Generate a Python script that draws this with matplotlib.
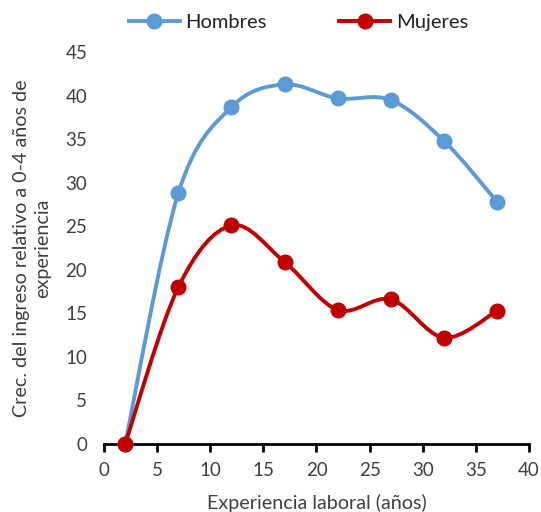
import matplotlib
matplotlib.use("Agg")
import matplotlib.pyplot as plt
from matplotlib.path import Path
from matplotlib.patches import PathPatch
from matplotlib.lines import Line2D

plt.rcParams["font.family"] = ["Lato", "DejaVu Sans"]

experiencia = [2, 7, 12, 17, 22, 27, 32, 37]
hombres = [0, 28.8, 38.7, 41.3, 39.7, 39.5, 34.8, 27.8]
mujeres = [0, 18.0, 25.1, 20.9, 15.4, 16.6, 12.2, 15.3]

AZUL = "#5B9BD5"
ROJO = "#C00000"
GRIS = "#404040"


def smooth_path(xs, ys):
    # Catmull-Rom style cubic Bezier through every point (spreadsheet "smoothed line")
    verts = [(xs[0], ys[0])]
    codes = [Path.MOVETO]
    n = len(xs)
    for i in range(n - 1):
        x0, y0 = (xs[i - 1], ys[i - 1]) if i > 0 else (xs[i], ys[i])
        x1, y1 = xs[i], ys[i]
        x2, y2 = xs[i + 1], ys[i + 1]
        x3, y3 = (xs[i + 2], ys[i + 2]) if i + 2 < n else (x2, y2)
        c1 = (x1 + (x2 - x0) / 6, y1 + (y2 - y0) / 6)
        c2 = (x2 - (x3 - x1) / 6, y2 - (y3 - y1) / 6)
        verts += [c1, c2, (x2, y2)]
        codes += [Path.CURVE4] * 3
    return Path(verts, codes)


fig = plt.figure(figsize=(5.41, 5.12), dpi=100)
ax = fig.add_axes([0.192, 0.133, 0.786, 0.765])

for ys, col in [(hombres, AZUL), (mujeres, ROJO)]:
    ax.add_patch(PathPatch(smooth_path(experiencia, ys), facecolor="none",
                           edgecolor=col, lw=2.8, capstyle="round", zorder=2))
    ax.plot(experiencia, ys, "o", color=col, ms=10.5, zorder=3, clip_on=False)

ax.set_xlim(0, 40)
ax.set_ylim(0, 45)
ax.set_xticks(range(0, 41, 5))
ax.set_yticks(range(0, 46, 5))
for s in ["top", "right", "left"]:
    ax.spines[s].set_visible(False)
ax.spines["bottom"].set_linewidth(2)
ax.spines["bottom"].set_color("black")
ax.tick_params(axis="x", direction="out", length=6, width=2, color="black",
               labelsize=13.5, labelcolor=GRIS, pad=7)
ax.tick_params(axis="y", length=0, labelsize=13.5, labelcolor=GRIS, pad=12)

ax.set_xlabel("Experiencia laboral (años)", fontsize=14.2, color=GRIS, labelpad=11)
ax.set_ylabel("Crec. del ingreso relativo a 0-4 años de\nexperiencia",
              fontsize=14.2, color=GRIS, labelpad=10, linespacing=1.3)

handles = [Line2D([], [], color=AZUL, lw=2.8, marker="o", ms=10.5),
           Line2D([], [], color=ROJO, lw=2.8, marker="o", ms=10.5)]
fig.legend(handles, ["Hombres", "Mujeres"], loc="center", ncol=2,
           bbox_to_anchor=(0.552, 0.957), frameon=False, fontsize=14.5,
           handlelength=2.5, columnspacing=3.6, handletextpad=0.3,
           labelcolor="#222222")

fig.savefig("out.png", dpi=100, facecolor="white")
